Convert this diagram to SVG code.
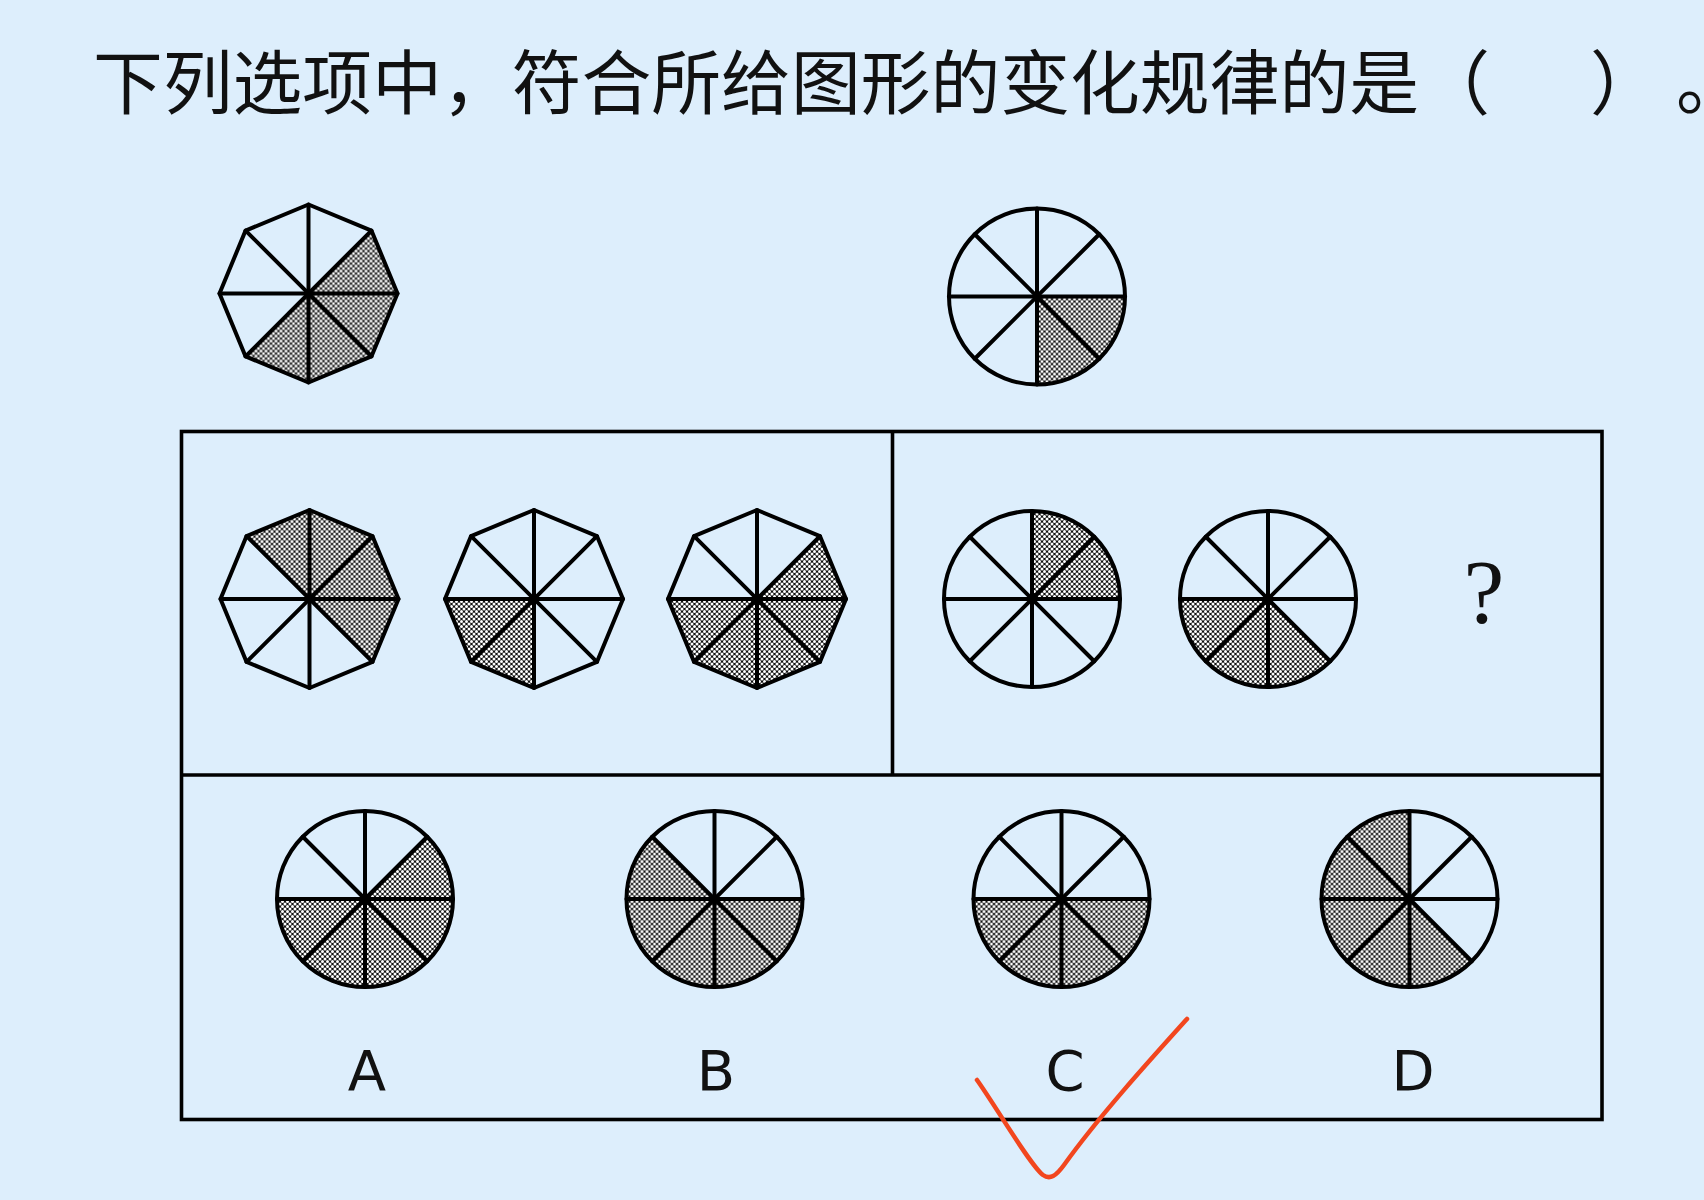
<svg xmlns="http://www.w3.org/2000/svg" xmlns:xlink="http://www.w3.org/1999/xlink" width="1704" height="1200" viewBox="0 0 1704 1200">
<defs>
<style>
.ln{fill:none;stroke:#000;stroke-width:4;stroke-linejoin:round;stroke-linecap:round}
.fr{fill:none;stroke:#000;stroke-width:3.6}
.sh{fill:url(#dots);stroke:none}
.title{font-family:"Noto Sans CJK SC","Noto Sans",sans-serif;font-size:70px;fill:#111}
.lab{font-family:"DejaVu Sans","Noto Sans",sans-serif;font-size:56px;fill:#111;text-anchor:middle}
.q{font-family:"Liberation Serif","Times New Roman",serif;font-size:92px;fill:#111;text-anchor:middle}
</style>
<pattern id="dots" width="5" height="5" patternUnits="userSpaceOnUse">
<rect width="5" height="5" fill="#111"/>
<circle cx="0" cy="0" r="1.5" fill="#fff"/>
<circle cx="5" cy="0" r="1.5" fill="#fff"/>
<circle cx="0" cy="5" r="1.5" fill="#fff"/>
<circle cx="5" cy="5" r="1.5" fill="#fff"/>
<circle cx="2.5" cy="2.5" r="1.5" fill="#fff"/>
</pattern>
<g id="wheel" class="ln">
<circle cx="0" cy="0" r="88"/>
<line x1="-88" y1="0" x2="88" y2="0"/>
<line x1="0" y1="-88" x2="0" y2="88"/>
<line x1="-62.23" y1="-62.23" x2="62.23" y2="62.23"/>
<line x1="-62.23" y1="62.23" x2="62.23" y2="-62.23"/>
</g>
<g id="oct" class="ln">
<polygon points="89,0 62.93,62.93 0,89 -62.93,62.93 -89,0 -62.93,-62.93 0,-89 62.93,-62.93"/>
<line x1="-89" y1="0" x2="89" y2="0"/>
<line x1="0" y1="-89" x2="0" y2="89"/>
<line x1="-62.93" y1="-62.93" x2="62.93" y2="62.93"/>
<line x1="-62.93" y1="62.93" x2="62.93" y2="-62.93"/>
</g>
</defs>
<rect width="1704" height="1200" fill="#ddeefc"/>
<g id="title">
<text class="title" x="93" y="109" textLength="1326" lengthAdjust="spacingAndGlyphs">下列选项中，符合所给图形的变化规律的是</text>
<text class="title" y="109"><tspan x="1420">（</tspan><tspan x="1590">）</tspan><tspan x="1676">。</tspan></text>
</g>

<g id="top-octagon" transform="translate(308.5,293.5)">
<path class="sh" d="M0,0 L62.93,-62.93 L89,0 L62.93,62.93 L0,89 L-62.93,62.93 Z"/>
<use xlink:href="#oct"/>
</g>
<g id="top-circle" transform="translate(1037,296.5)">
<path class="sh" d="M0,0 L88,0 A88,88 0 0 1 0,88 Z"/>
<use xlink:href="#wheel"/>
</g>

<g id="frame" class="fr">
<rect x="181.5" y="431.5" width="1420.5" height="688"/>
<line x1="181.5" y1="775" x2="1602" y2="775"/>
<line x1="892.5" y1="431.5" x2="892.5" y2="775"/>
</g>

<g id="oct-1" transform="translate(309.5,599)">
<path class="sh" d="M0,0 L-62.93,-62.93 L0,-89 L62.93,-62.93 L89,0 L62.93,62.93 Z"/>
<use xlink:href="#oct"/>
</g>
<g id="oct-2" transform="translate(534,599)">
<path class="sh" d="M0,0 L0,89 L-62.93,62.93 L-89,0 Z"/>
<use xlink:href="#oct"/>
</g>
<g id="oct-3" transform="translate(757,599)">
<path class="sh" d="M0,0 L62.93,-62.93 L89,0 L62.93,62.93 L0,89 L-62.93,62.93 L-89,0 Z"/>
<use xlink:href="#oct"/>
</g>
<g id="circle-1" transform="translate(1032,599)">
<path class="sh" d="M0,0 L0,-88 A88,88 0 0 1 88,0 Z"/>
<use xlink:href="#wheel"/>
</g>
<g id="circle-2" transform="translate(1268,599)">
<path class="sh" d="M0,0 L62.23,62.23 A88,88 0 0 1 -88,0 Z"/>
<use xlink:href="#wheel"/>
</g>
<text id="question" class="q" x="1484" y="623">?</text>

<g id="option-A" transform="translate(365,899)">
<path class="sh" d="M0,0 L62.23,-62.23 A88,88 0 1 1 -88,0 Z"/>
<use xlink:href="#wheel"/>
</g>
<g id="option-B" transform="translate(714.5,899)">
<path class="sh" d="M0,0 L88,0 A88,88 0 1 1 -62.23,-62.23 Z"/>
<use xlink:href="#wheel"/>
</g>
<g id="option-C" transform="translate(1061.5,899)">
<path class="sh" d="M0,0 L88,0 A88,88 0 0 1 -88,0 Z"/>
<use xlink:href="#wheel"/>
</g>
<g id="option-D" transform="translate(1409.5,899)">
<path class="sh" d="M0,0 L62.23,62.23 A88,88 0 1 1 0,-88 Z"/>
<use xlink:href="#wheel"/>
</g>

<g id="labels">
<text class="lab" x="367" y="1090">A</text>
<text class="lab" x="716" y="1090">B</text>
<text class="lab" x="1065" y="1090">C</text>
<text class="lab" x="1413" y="1090">D</text>
</g>

<path id="check" d="M977,1080 C995,1105 1030,1165 1043,1175 C1050,1180 1056,1176 1064,1165 C1100,1115 1150,1060 1187,1019" fill="none" stroke="#f2461e" stroke-width="4.5" stroke-linecap="round" stroke-linejoin="round"/>
</svg>
